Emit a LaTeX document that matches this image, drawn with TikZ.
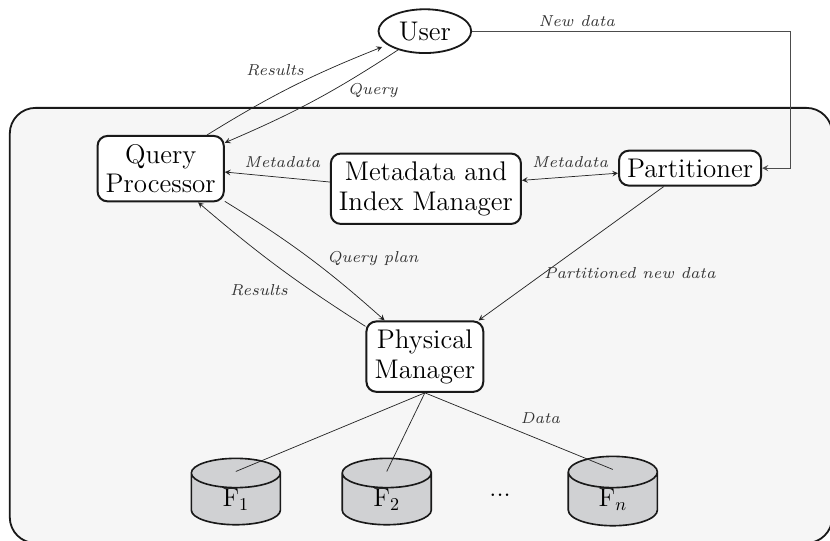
\documentclass[tikz,border=0pt]{standalone}
\usepackage{amsmath}
\usepackage{amssymb}
\usetikzlibrary{shapes.geometric}
\definecolor{panel}{HTML}{F6F6F6}
\definecolor{disk}{HTML}{D0D1D3}
\tikzset{
  box/.style={draw=black!90,line width=1.1pt,rounded corners=5.5pt,fill=white,align=center,font=\fontsize{14.9}{16.5}\selectfont,inner xsep=4.5pt,inner ysep=4.5pt},
  disk/.style={cylinder,draw=black!90,line width=.9pt,shape border rotate=90,aspect=1.1,minimum width=1.73cm,minimum height=1.2cm,
    cylinder uses custom fill,cylinder body fill=disk,cylinder end fill=disk,font=\Large,inner sep=0pt},
  lbl/.style={font=\scriptsize\itshape,text=black!80,inner sep=0pt,scale=1.25}
}
\begin{document}
\begin{tikzpicture}[>=stealth]
   \useasboundingbox (0,0) rectangle (16.117,10.505);
   \draw[fill=panel,line width=1pt,draw=black!90,rounded corners=.5cm] (.19,-.04) rectangle (16.16,8.41);
   \begin{scope}
    \node[box] (proc) at (3.12,7.23) {Query\\Processor};
    \node[box] (meta) at (8.27,6.84) {Metadata and\\Index Manager};
    \node[box] (part) at (13.4,7.24) {Partitioner};
    \node[box] (phys) at (8.25,3.58) {Physical\\Manager};
    \node[draw=black!90,line width=1pt,ellipse,font=\fontsize{14.9}{16.5}\selectfont,inner sep=1pt,minimum width=1.8cm,minimum height=.85cm] (user) at (8.25,9.9) {User};
    \node[disk] (f1) at (4.58,.81) {F$_1$};
    \node[disk] (f2) at (7.51,.81) {F$_2$};
    \node[disk] (fn) at (11.9,.81) {F$_n$};
    \node[font=\Large] (dots) at (9.71,.88) {...};
   \end{scope}
   \coordinate (corner) at (15.34,9.9);
   \begin{scope}[every edge/.style={draw=black!85,line width=.4pt}]
    \draw (proc.36) edge[->,bend left=5] ([xshift=-.17cm]user.205);
    \draw (user.215) edge[->,bend left=5] (proc.22);
    \draw (meta.176) edge[->] (proc.-3);
    \draw (meta.5) edge[<->] (part.184);
    \draw (proc.-27) edge[->,bend left=5] (phys.138);
    \draw (phys.153) edge[->,bend left=4] (proc.-42);
    \draw (part.215) edge[->] (phys.34);
    \draw (phys.south) edge ([yshift=-.27cm]f1.top);
    \draw (phys.south) edge ([yshift=-.27cm]f2.top);
    \draw (phys.south) edge ([yshift=-.27cm]fn.top);
   \end{scope}
   \draw[draw=black!70,line width=.5pt,->] (user.east) -- (corner) |- (part.east);
   \begin{scope}[every node/.style={lbl}]
    \node (resa) at (5.34,9.14) {Results};
    \node (qry) at (7.24,8.75) {Query};
    \node (mda) at (5.48,7.36) {Metadata};
    \node (mdb) at (11.07,7.36) {Metadata};
    \node (new) at (11.2,10.09) {New data};
    \node (plan) at (7.24,5.49) {Query plan};
    \node (resb) at (5.03,4.87) {Results};
    \node (pnd) at (12.23,5.2) {Partitioned new data};
    \node (dat) at (10.49,2.38) {Data};
   \end{scope}
\end{tikzpicture}
\end{document}
